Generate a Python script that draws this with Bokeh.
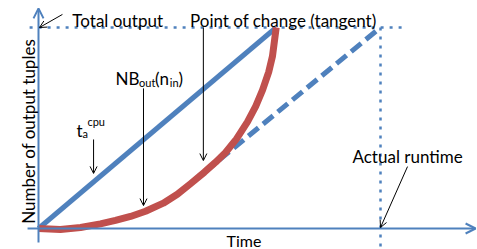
from math import pi
from bokeh.plotting import figure
from bokeh.models import Range1d, Label, Arrow, OpenHead
from bokeh.embed import file_html
from bokeh.resources import INLINE

# ---- data (time in arbitrary units, output in % of total) ----
total_output = 100.0
actual_runtime = 10.0
est_time = [0.0, 6.95]            # t_a^cpu estimate line
est_output = [0.0, 100.0]
nb_time = [0.0, 0.64, 1.23, 1.81, 2.25, 2.69, 3.13, 3.65, 4.06, 4.44, 4.85,
           5.18, 5.47, 5.79, 6.11, 6.35, 6.55, 6.73, 6.84, 6.95]
nb_output = [0.0, -0.5, 0.5, 2.3, 4.0, 6.0, 8.6, 12.6, 17.0, 22.2, 28.0,
             33.0, 37.8, 44.6, 53.0, 60.8, 68.8, 77.8, 85.6, 100.0]
tangent_time = [4.85, 10.0]
tangent_output = [28.0, 100.0]

BLUE = "#4F81BD"
RED = "#C0504D"
FONT = "Lato"

W, H = 477, 249
p = figure(width=W, height=H, output_backend="svg", toolbar_location=None,
           x_range=Range1d(-1.1111, 12.836), y_range=Range1d(-10.448, 113.43),
           min_border=0)
p.axis.visible = False
p.grid.visible = False
p.outline_line_color = None

# axes with arrows
p.add_layout(Arrow(x_start=-0.32, y_start=0, x_end=12.78, y_end=0,
                   line_color=BLUE, line_width=2,
                   end=OpenHead(size=10, line_color=BLUE, line_width=2)))
p.add_layout(Arrow(x_start=0, y_start=-7.0, x_end=0, y_end=109.5,
                   line_color=BLUE, line_width=2,
                   end=OpenHead(size=10, line_color=BLUE, line_width=2)))

# dotted guides
p.line([-0.26, 10.7], [total_output, total_output], line_color=BLUE,
       line_width=2.5, line_dash="3 6")
p.line([actual_runtime, actual_runtime], [total_output, -10.4], line_color=BLUE,
       line_width=2.5, line_dash="3 6")

# series
p.line(est_time, est_output, line_color=BLUE, line_width=5)
p.line(tangent_time, tangent_output, line_color=BLUE, line_width=5,
       line_dash="13 6")
p.line(nb_time, nb_output, line_color=RED, line_width=7, line_join="round")


def lab(x, y, text, size=17, **kw):
    p.add_layout(Label(x=x, y=y, text=text, text_font=FONT,
                       text_font_size=f"{size}px", text_color="black",
                       text_baseline="alphabetic", **kw))


def arr(x0, y0, x1, y1):
    p.add_layout(Arrow(x_start=x0, y_start=y0, x_end=x1, y_end=y1,
                       line_color="black", line_width=1,
                       end=OpenHead(size=7, line_color="black", line_width=1)))


# labels
lab(0.99, 103.5, "Total output")
arr(0.70, 106.5, 0.03, total_output)

lab(4.43, 103.5, "Point of change (tangent)")
arr(4.82, total_output, 4.82, 33.8)

lab(2.25, 74.6, "NB")
lab(2.94, 72.6, "out", size=11)
lab(3.41, 74.6, "(n")
lab(3.84, 72.6, "in", size=11)
lab(4.09, 74.6, ")")
arr(3.07, 69.7, 3.07, 11.4)

lab(1.11, 48.8, "t")
lab(1.29, 47.3, "a", size=11)
lab(1.43, 53.2, "cpu", size=11)
arr(1.61, 44.3, 1.61, 27.4)

lab(9.18, 35.8, "Actual runtime")
arr(10.79, 30.8, actual_runtime, 0.5)

lab(5.50, -5.97, "Time", size=16)

lab(-0.29, 49.5, "Number of output  tuples", angle=pi / 2,
    text_align="center")

open("out.html", "w").write(file_html(p, INLINE))
